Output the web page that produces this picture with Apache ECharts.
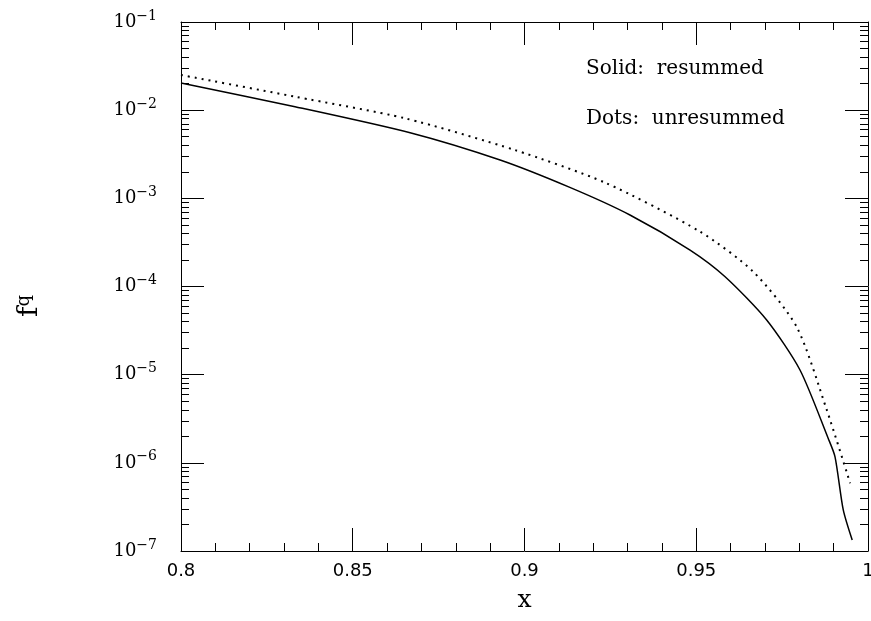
<!DOCTYPE html>
<html>
<head>
<meta charset="utf-8">
<script src="https://cdn.jsdelivr.net/npm/echarts@6/dist/echarts.min.js"></script>
<style>
  html, body { margin: 0; padding: 0; background: #fff; }
  #chart { width: 871px; height: 621px; }
</style>
</head>
<body>
<div id="chart"></div>
<script>
// resummed curve (solid)
const resummedX = [0.800, 0.8332, 0.8667, 0.8929, 0.9132, 0.9307, 0.9482, 0.9584, 0.9705, 0.9802, 0.9884, 0.9904, 0.9928, 0.9954];
const resummedF = [0.0203, 0.01096, 0.00555, 0.00272, 0.00133, 6.47e-4, 2.59e-4, 1.29e-4, 4.17e-5, 1.13e-5, 1.90e-6, 1.17e-6, 2.92e-7, 1.33e-7];

// unresummed curve (dots)
const unresummedX = [0.800, 0.8332, 0.8652, 0.8972, 0.9234, 0.9511, 0.9666, 0.9792, 0.9880, 0.9948];
const unresummedF = [0.02506, 0.01422, 0.00809, 0.00353, 0.00151, 4.19e-4, 1.47e-4, 3.50e-5, 3.98e-6, 5.86e-7];

const legendLines = ["Solid:  resummed", "Dots:  unresummed"];

// minor ticks of the log axis (2..9 x 10^n), in log10 units
const minorLog = [];
for (let n = -7; n < -1; n++) {
  for (let k = 2; k <= 9; k++) minorLog.push(n + Math.log10(k));
}

const chart = echarts.init(document.getElementById("chart"));
const black = "#000";
const serif = "DejaVu Serif";

const tickLine = { color: black, width: 1 };

function xAxisBase(pos) {
  return {
    type: "value",
    position: pos,
    min: 0.8,
    max: 1.0,
    interval: 0.05,
    axisLine: { show: true, lineStyle: tickLine },
    axisTick: { show: true, inside: true, length: 23, lineStyle: tickLine },
    minorTick: { show: true, splitNumber: 5, length: 8, lineStyle: tickLine },
    splitLine: { show: false },
    minorSplitLine: { show: false },
    axisLabel: { show: false }
  };
}

function yLogBase(pos) {
  return {
    type: "log",
    logBase: 10,
    position: pos,
    min: 1e-7,
    max: 1e-1,
    axisLine: { show: true, lineStyle: tickLine },
    axisTick: { show: true, inside: true, length: 23, lineStyle: tickLine },
    splitLine: { show: false },
    axisLabel: { show: false }
  };
}

function yMinorBase(pos) {
  return {
    type: "value",
    position: pos,
    min: -7,
    max: -1,
    axisLine: { show: false },
    axisTick: { show: true, inside: true, length: 8, customValues: minorLog, lineStyle: tickLine },
    splitLine: { show: false },
    axisLabel: { show: false }
  };
}

const xBottom = xAxisBase("bottom");
xBottom.axisLabel = {
  show: true,
  margin: 11,
  color: black,
  fontFamily: "DejaVu Sans",
  fontSize: 18,
  formatter: (v) => String(+v.toFixed(2))
};
xBottom.name = "x";
xBottom.nameLocation = "middle";
xBottom.nameGap = 37;
xBottom.nameTextStyle = { fontFamily: serif, fontSize: 25, color: black };

const yLeft = yLogBase("left");
yLeft.axisLabel = {
  show: true,
  margin: 24,
  color: black,
  formatter: (v) => "{b|10}{s|\u2212" + Math.round(-Math.log10(v)) + "}",
  rich: {
    b: { fontFamily: serif, fontSize: 18, lineHeight: 18, verticalAlign: "bottom", color: black },
    s: { fontFamily: serif, fontSize: 14, lineHeight: 14, verticalAlign: "bottom", padding: [0, 0, 8, 0], color: black }
  }
};

const lineBase = {
  type: "line",
  xAxisIndex: 0,
  yAxisIndex: 0,
  showSymbol: false,
  smooth: 0.25
};

const option = {
  animation: false,
  backgroundColor: "#fff",
  grid: { left: 181, top: 22, width: 687, height: 529, containLabel: false, outerBoundsMode: "none" },
  xAxis: [xBottom, xAxisBase("top")],
  yAxis: [yLeft, yLogBase("right"), yMinorBase("left"), yMinorBase("right")],
  series: [
    Object.assign({}, lineBase, {
      name: "resummed",
      data: resummedX.map((x, i) => [x, resummedF[i]]),
      lineStyle: { color: black, width: 1.5 }
    }),
    Object.assign({}, lineBase, {
      name: "unresummed",
      data: unresummedX.map((x, i) => [x, unresummedF[i]]),
      lineStyle: { color: black, width: 2, type: [2, 5] }
    })
  ],
  graphic: [
    {
      type: "text",
      x: 586,
      y: 69,
      style: { text: legendLines[0], fontFamily: serif, fontSize: 20, fill: black, verticalAlign: "middle" }
    },
    {
      type: "text",
      x: 586,
      y: 119,
      style: { text: legendLines[1], fontFamily: serif, fontSize: 20, fill: black, verticalAlign: "middle" }
    },
    {
      type: "text",
      x: 30,
      y: 306,
      rotation: Math.PI / 2,
      style: {
        text: "{f|f}{q|q}",
        align: "center",
        verticalAlign: "middle",
        fill: black,
        rich: {
          f: { fontFamily: serif, fontSize: 28, lineHeight: 28, verticalAlign: "bottom", fill: black },
          q: { fontFamily: serif, fontSize: 18, lineHeight: 18, verticalAlign: "bottom", padding: [0, 0, 11, 0], fill: black }
        }
      }
    }
  ]
};

chart.setOption(option);
</script>
</body>
</html>
